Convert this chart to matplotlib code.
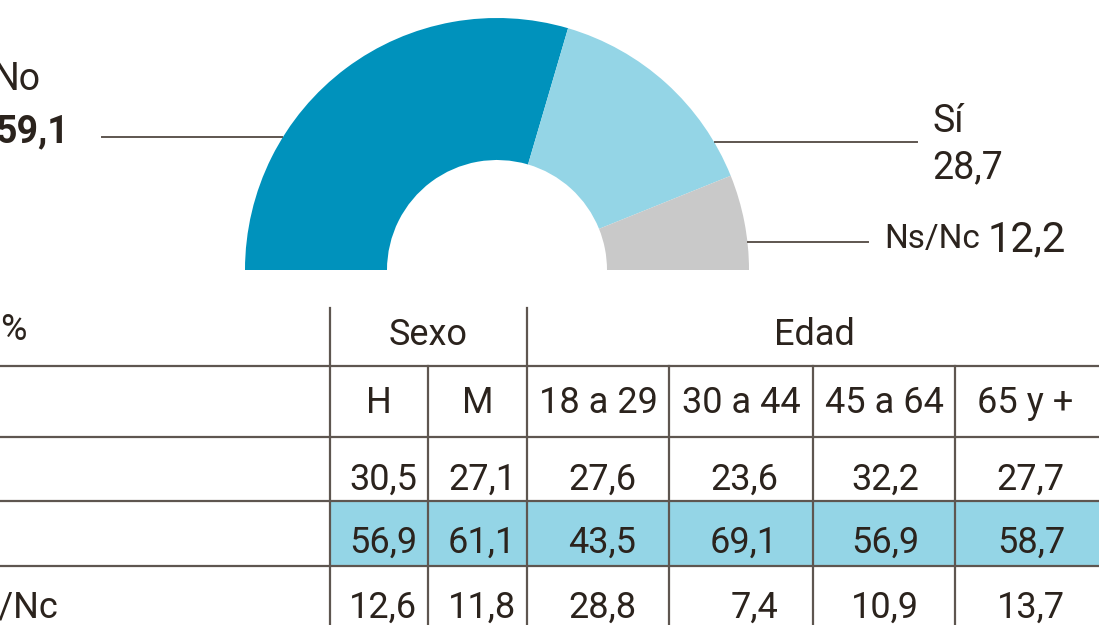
import numpy as np
import matplotlib.pyplot as plt

# Datos del gráfico semicircular
respuestas = ["No", "Sí", "Ns/Nc"]
porcentajes = [59.1, 28.7, 12.2]
etiquetas_pct = ["59,1", "28,7", "12,2"]

# Datos de la tabla
grupos = ["Sexo", "Edad"]
columnas = ["H", "M", "18 a 29", "30 a 44", "45 a 64", "65 y +"]
filas = ["Sí", "No", "Ns/Nc"]
valores = [
    ["30,5", "27,1", "27,6", "23,6", "32,2", "27,7"],
    ["56,9", "61,1", "43,5", "69,1", "56,9", "58,7"],
    ["12,6", "11,8", "28,8", "7,4", "10,9", "13,7"],
]

# Colores
azul_oscuro = "#0092bc"
azul_claro = "#94d5e6"
gris = "#c9c9c9"
texto = "#2b231d"
linea = "#5e5650"
FUENTE = ["Roboto", "DejaVu Sans"]

fig = plt.figure(figsize=(10.99, 6.25), dpi=100)
ax = fig.add_axes([0, 0, 1, 1])

# Semicírculo (eje Y invertido, por eso counterclock=True)
ax.pie(np.array(porcentajes) / 200, normalize=False,
       colors=[azul_oscuro, azul_claro, gris],
       center=(497, 270), radius=252, startangle=180, counterclock=True,
       wedgeprops=dict(width=142, linewidth=0))

ax.set_xlim(0, 1099)
ax.set_ylim(625, 0)
ax.set_aspect("auto")
ax.axis("off")

# Líneas guía y etiquetas
ax.plot([102, 282], [137, 137], color=linea, lw=1.4)
ax.plot([715, 917], [142, 142], color=linea, lw=1.4)
ax.plot([748, 868], [242, 242], color=linea, lw=1.4)

ax.text(-7, 90, respuestas[0], fontsize=27, color=texto, family=FUENTE)
ax.text(-5, 142, etiquetas_pct[0], fontsize=27, fontweight="bold", color=texto, family=FUENTE)
ax.text(932, 132, respuestas[1], fontsize=27, color=texto, family=FUENTE)
ax.text(932, 178, etiquetas_pct[1], fontsize=27, color=texto, family=FUENTE)
ax.text(884, 248, respuestas[2], fontsize=24, color=texto, family=FUENTE)
ax.text(988, 251, etiquetas_pct[2], fontsize=30, color=texto, family=FUENTE)

# Tabla
lineas_h = [366, 437, 501, 566]
lineas_v_largas = [330, 527]
lineas_v_cortas = [428, 669, 813, 955]
centros_col = [379, 478, 598, 741, 884, 1025]
derecha_col = [417, 516, 636, 778, 919, 1065]
base_filas = [490, 553, 618]

# Fila resaltada (No)
ax.fill_between([330, 1099], 501, 566, color=azul_claro, lw=0, zorder=0)

for y in lineas_h:
    ax.plot([0, 1099], [y, y], color=linea, lw=1.6)
for x in lineas_v_largas:
    ax.plot([x, x], [308, 625], color=linea, lw=1.6)
for x in lineas_v_cortas:
    ax.plot([x, x], [366, 625], color=linea, lw=1.6)

ax.text(0, 340, "%", fontsize=26, color=texto, family=FUENTE)
ax.text(428, 345, grupos[0], fontsize=26, color=texto, ha="center", family=FUENTE)
ax.text(814, 345, grupos[1], fontsize=26, color=texto, ha="center", family=FUENTE)

for c, x in zip(columnas, centros_col):
    ax.text(x, 413, c, fontsize=26, color=texto, ha="center", family=FUENTE)

# Las etiquetas de fila quedan casi fuera del encuadre, como en el original
for fila, base, vals in zip(filas, base_filas, valores):
    ax.text(-46, base, fila, fontsize=26, color=texto, ha="left", family=FUENTE)
    for v, x in zip(vals, derecha_col):
        ax.text(x, base, v, fontsize=26, color=texto, ha="right", family=FUENTE)

plt.savefig("out.png", dpi=100)
